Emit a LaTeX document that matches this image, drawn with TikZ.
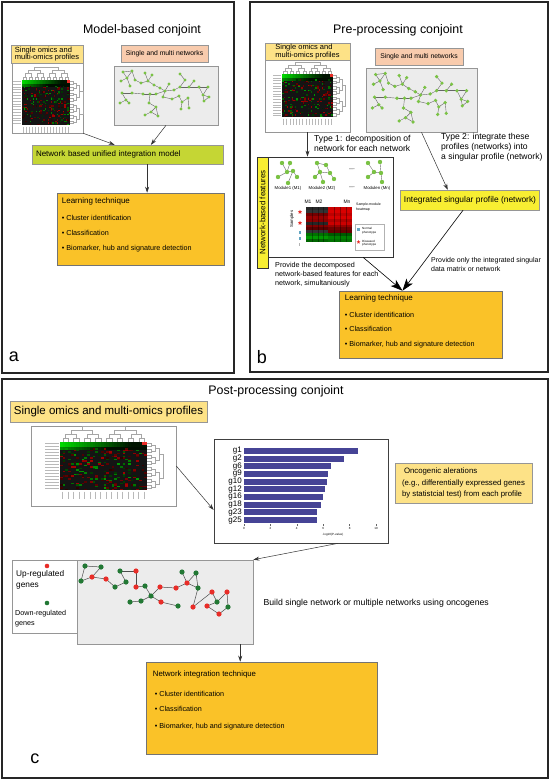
\documentclass[tikz,border=0pt]{standalone}
\usepackage{fontspec}
\setmainfont{Liberation Sans}
\usepackage{xcolor}
\usetikzlibrary{positioning,shapes,arrows.meta,calc}
\definecolor{omicsyellow}{RGB}{253,226,135}
\definecolor{netpeach}{RGB}{248,203,173}
\definecolor{modelgreen}{RGB}{197,214,52}
\definecolor{learnorange}{RGB}{250,194,40}
\definecolor{singleyellow}{RGB}{248,238,50}
\definecolor{netgray}{RGB}{236,236,236}
\definecolor{nodegreen}{RGB}{122,194,68}
\definecolor{upred}{RGB}{232,45,40}
\definecolor{downgreen}{RGB}{34,120,52}
\definecolor{barblue}{RGB}{70,68,150}
\definecolor{boxgray}{RGB}{150,150,150}

% heatmap with dendrograms: left, top, width, height, dendrogram step
\newcommand{\omicsmap}[5]{%
  \pgfmathsetmacro\cw{#3/32}%
  \pgfmathsetmacro\rh{#4/32}%
  \fill[black!92] (#1,#2) rectangle ++(#3,#4);
  \foreach \col in {0,...,31}{%
    \pgfmathtruncatemacro\pct{max(8,85-3*\col)}%
    \fill[green!\pct!black] (#1+\col*\cw,#2) rectangle ++(\cw,3*\rh);
    \pgfmathtruncatemacro\pct{max(5,55-3*\col)}%
    \fill[green!\pct!black] (#1+\col*\cw,#2+3*\rh) rectangle ++(\cw,2*\rh);
  }
  \fill[upred] (#1+30*\cw,#2) rectangle ++(2*\cw,2*\rh);
  \foreach \i in {1,...,150}{%
    \pgfmathtruncatemacro\rc{random(0,31)}%
    \pgfmathtruncatemacro\rr{random(4,31)}%
    \pgfmathtruncatemacro\pct{random(15,65)}%
    \fill[red!\pct!black] (#1+\rc*\cw,#2+\rr*\rh) rectangle ++(\cw,\rh);
  }
  \foreach \i in {1,...,100}{%
    \pgfmathtruncatemacro\rc{random(0,31)}%
    \pgfmathtruncatemacro\rr{random(4,31)}%
    \pgfmathtruncatemacro\pct{random(15,60)}%
    \fill[green!\pct!black] (#1+\rc*\cw,#2+\rr*\rh) rectangle ++(\cw,\rh);
  }
  \foreach \lev in {0,...,3}{%
    \pgfmathtruncatemacro\sz{2^(\lev+1)}%
    \pgfmathtruncatemacro\nb{16/\sz-1}%
    \foreach \kk in {0,...,\nb}{%
      \pgfmathsetmacro\pa{(\kk*\sz+\sz/4)*#3/16}%
      \pgfmathsetmacro\pb{(\kk*\sz+3*\sz/4)*#3/16}%
      \draw[dendro] (#1+\pa,#2-\lev*#5) |- (#1+\pb,#2-\lev*#5-#5) -- (#1+\pb,#2-\lev*#5);
      \pgfmathsetmacro\qa{(\kk*\sz+\sz/4)*#4/16}%
      \pgfmathsetmacro\qb{(\kk*\sz+3*\sz/4)*#4/16}%
      \draw[dendro] (#1+#3+\lev*#5,#2+\qa) -| (#1+#3+\lev*#5+#5,#2+\qb) -- (#1+#3+\lev*#5,#2+\qb);
    }
  }
  \foreach \rr in {0,...,15}
    \draw[maplabel] (#1-1.5,#2+\rr*#4/16+#4/32) -- ++(-0.15*#3,0);
  \foreach \rc in {0,...,15}
    \draw[maplabel] (#1+\rc*#3/16+#3/32,#2+#4+1.5) -- ++(0,0.15*#4);
}

% green network, drawn in a 104 x 59 frame
\newcommand{\greennet}{%
  \foreach \n/\x/\y in {1/9/6, 2/18/5, 3/13/12, 4/7/15, 5/21/14, 6/16/20,
    7/27/17, 8/31/7, 9/38/9, 10/34/15, 11/40/19, 12/46/22, 13/51/25, 14/55/18, 15/60/24,
    16/66/8, 17/71/14, 18/66/21, 19/75/21, 20/80/15, 21/85/21, 22/89/29, 23/94/21, 24/95/31, 25/90/35,
    26/8/27, 27/18/27, 28/12/34, 29/6/37, 30/15/37, 31/29/28, 32/36/28, 33/42/28, 34/35/37,
    35/42/41, 36/37/46, 37/31/49, 38/44/50, 39/49/31, 40/58/33, 41/65/30, 42/68/36, 43/74/32,
    44/75/42, 45/67/43}
    \coordinate (g\n) at (\x,\y);
  \foreach \a/\b in {1/2, 1/3, 2/3, 3/4, 3/6, 2/5, 5/7, 7/10, 8/10, 9/10, 10/11, 11/12, 12/13,
    13/14, 13/15, 15/18, 16/17, 17/18, 18/19, 19/20, 19/21, 21/23, 21/22, 22/23, 22/24, 24/25,
    22/25, 26/27, 26/28, 28/29, 28/30, 27/31, 31/32, 32/33, 33/13, 32/34, 34/35, 35/36, 36/37,
    35/38, 36/38, 13/39, 39/40, 40/41, 41/42, 42/43, 42/45, 43/44}
    \draw[netedge] (g\a) -- (g\b);
  \foreach \n in {1,...,45}
    \fill[nodegreen] (g\n) circle (1.7);
}

\begin{document}
\begin{tikzpicture}[x=1pt, y=-1pt]
    \tikzstyle{panel} = [draw=black!85, line width=1.8pt]
    \tikzstyle{title} = [font=\fontsize{12.4}{15}\selectfont]
    \tikzstyle{letter} = [font=\fontsize{18}{20}\selectfont]
    \tikzstyle{omics} = [rectangle, draw=boxgray, fill=omicsyellow, align=left, inner xsep=4pt, inner ysep=1pt]
    \tikzstyle{frame} = [rectangle, draw=boxgray, fill=white, line width=0.6pt]
    \tikzstyle{netlabel} = [rectangle, draw=boxgray, fill=netpeach, font=\fontsize{6.8}{8}\selectfont]
    \tikzstyle{netbox} = [rectangle, draw=boxgray, fill=netgray, line width=0.6pt]
    \tikzstyle{learnbox} = [rectangle, draw=black!55, fill=learnorange, line width=0.6pt]
    \tikzstyle{items} = [align=left, inner sep=0pt, anchor=north west, font=\fontsize{7.2}{9}\selectfont]
    \tikzstyle{remark} = [align=left, inner sep=0pt, anchor=north west]
    \tikzstyle{conn} = [-{Stealth[length=6pt,width=4pt]}, draw=black!80, line width=0.5pt]
    \tikzstyle{bigconn} = [-{Stealth[length=12pt,width=8pt,inset=3pt]}, line width=0.6pt]
    \tikzstyle{netedge} = [draw=black!60, line width=0.4pt]
    \tikzstyle{dendro} = [draw=gray!70, line width=0.3pt]
    \tikzstyle{maplabel} = [draw=gray!55, line width=0.7pt]
    \tikzstyle{tiny} = [inner sep=0pt, font=\fontsize{4.3}{5}\selectfont]
    \pgfmathsetseed{11}

    \fill[white] (0,0) rectangle (550,780);
    \useasboundingbox (0,0) rectangle (550,780);

    % Panels
    \draw[panel] (2,2) rectangle (234,373);
    \draw[panel] (250,2) rectangle (548,372);
    \draw[panel] (2,379) rectangle (548,778);

    % Panel a
    \node[title] (titleA) at (142,30) {Model-based conjoint};
    \node[frame, minimum width=71, minimum height=88] (mapA) at (47.5,89) {};
    \omicsmap{22}{80}{48}{45}{3.2}
    \node[omics, font=\fontsize{7.5}{7.5}\selectfont, minimum width=70, minimum height=18] (omicsA) at (47,54) {Single omics and\\multi-omics profiles};
    \node[netlabel, minimum width=87, minimum height=17] (netlblA) at (164.5,53.5) {Single and multi networks};
    \node[netbox, minimum width=104, minimum height=59] (netA) at (166,95.5) {};
    \begin{scope}[shift={(114,66)}]
        \greennet
    \end{scope}
    \node[rectangle, draw=boxgray, fill=modelgreen, minimum width=190, minimum height=19, text width=184, align=left, font=\fontsize{8}{9}\selectfont] (modelA) at (128,154.5) {Network based unified integration model};
    \node[learnbox, minimum width=167, minimum height=72] (learnA) at (140.5,229) {};
    \node[items] (itemsA) at ([shift={(5,5)}]learnA.north west) {{\fontsize{8}{9}\selectfont Learning technique}\\[7.5pt]\textbullet\ Cluster identification\\[6pt]\textbullet\ Classification\\[6pt]\textbullet\ Biomarker, hub and signature detection};
    \node[letter] (letterA) at (14,357) {a};

    \draw[conn] (mapA.south east) -- ($(modelA.north west)!0.43!(modelA.north east)$);
    \draw[conn] (netA.south) -- ($(modelA.north west)!0.62!(modelA.north east)$);
    \coordinate (downA) at ($(modelA.south west)!0.6!(modelA.south east)$);
    \draw[conn] (downA) -- (downA |- learnA.north);

    % Panel b
    \node[title] (titleB) at (398,30) {Pre-processing conjoint};
    \node[frame, minimum width=85, minimum height=72] (mapB) at (307.5,96) {};
    \omicsmap{282}{74}{51}{43}{3}
    \node[omics, font=\fontsize{7.5}{7.5}\selectfont, minimum width=85, minimum height=17] (omicsB) at (307.5,51.5) {Single omics and\\multi-omics profiles};
    \node[netlabel, minimum width=88, minimum height=17] (netlblB) at (419,56.5) {Single and multi networks};
    \node[netbox, minimum width=111, minimum height=64] (netB) at (421.5,100) {};
    \begin{scope}[shift={(366,68)}, xscale=1.07, yscale=1.08]
        \greennet
    \end{scope}
    \node[rectangle, draw=boxgray, fill=singleyellow, minimum width=134, minimum height=20, font=\fontsize{8.4}{10}\selectfont] (integB) at (470,200) {Integrated singular profile (network)};
    \node[rectangle, draw=black!80, fill=singleyellow, rotate=90, minimum width=111, minimum height=11, inner sep=0pt, font=\fontsize{7.9}{9}\selectfont] (stripB) at (262.5,212.5) {Network-based features};
    \node[frame, draw=black!80, line width=0.8pt, minimum width=125, minimum height=100] (featB) at (330.5,207) {};

    % modules
    \foreach \n/\x/\y in {a1/282/163, a2/290/163, a3/287/172, a4/293/171, a5/278/177, a6/297/177, a7/288/183,
        b1/317/163, b2/326/165, b3/320/172, b4/330/173, b5/315/177, b6/323/182, b7/334/179,
        c1/368/163, c2/380/162, c3/374/172, c4/381/173, c5/368/177, c6/382/182}
        \coordinate (\n) at (\x,\y);
    \foreach \a/\b in {a1/a3, a2/a3, a3/a4, a3/a5, a4/a6, a4/a7, b1/b2, b1/b3, b2/b4, b3/b4, b3/b5,
        b3/b6, b4/b7, c1/c3, c2/c4, c3/c4, c3/c5, c4/c6}
        \draw[netedge] (\a) -- (\b);
    \foreach \n in {a1,a2,a3,a4,a5,a6,a7,b1,b2,b3,b4,b5,b6,b7,c1,c2,c3,c4,c5,c6}
        \fill[nodegreen] (\n) circle (2.2);
    \node[tiny] (mod1) at (288,188) {Module1 (M1)};
    \node[tiny] (mod2) at (322,188) {Module2 (M2)};
    \node[tiny] (modn) at (377,188) {Modulen (Mn)};
    \node[tiny] (dotsB1) at (352,170) {----};
    \node[tiny] (dotsB2) at (352,188) {----};

    % sample-module heatmap
    \foreach \lcol/\rcol [count=\row from 0] in {black!85/red!80!black, black!80/red!85!black,
        red!45!black/red!75!black, red!60!black/red!85!black, red!55!black/red!70!black,
        black!85/red!80!black, red!50!black/red!60!black, red!35!black/red!45!black,
        black!80/red!40!black, green!45!black/green!35!black, green!60!black/green!50!black,
        green!40!black/green!45!black}
    {
        \fill[\lcol] (306,207+\row*2.92) rectangle (328,209.92+\row*2.92);
        \fill[\rcol] (328,207+\row*2.92) rectangle (352,209.92+\row*2.92);
    }
    \foreach \xx in {312,318,323,334,340,346}
        \draw[black, opacity=0.35, line width=0.3pt] (\xx,207) -- (\xx,242);
    \node[inner sep=0pt, font=\fontsize{5}{6}\selectfont] (m1lbl) at (308,202) {M1};
    \node[inner sep=0pt, font=\fontsize{5}{6}\selectfont] (m2lbl) at (319,202) {M2};
    \node[inner sep=0pt, font=\fontsize{5}{6}\selectfont] (mnlbl) at (347,202) {Mn};
    \node[tiny, rotate=90] (samplesB) at (292,219) {Samples};
    \node[star, star point ratio=2.2, fill=upred, inner sep=0pt, minimum size=4.5] (starB1) at (300,212) {};
    \node[star, star point ratio=2.2, fill=upred, inner sep=0pt, minimum size=4.5] (starB2) at (300,223) {};
    \fill[cyan!50!gray] (298.5,231) rectangle ++(2,2.5);
    \fill[cyan!50!gray] (298.5,237) rectangle ++(2,2.5);
    \fill[gray!60] (299,243) rectangle ++(1,2.5);
    \node[remark, font=\fontsize{3.5}{4.5}\selectfont] (heatB) at (356,203) {Sample-module\\heatmap};
    \node[rectangle, draw=gray!60, fill=white, minimum width=29, minimum height=26] (legB) at (369.5,237) {};
    \fill[cyan!50!gray] (357,228) rectangle ++(3,3);
    \node[remark, font=\fontsize{3}{3.5}\selectfont] (normalB) at (362,227.5) {Normal\\phenotype};
    \node[star, star point ratio=2.2, fill=upred, inner sep=0pt, minimum size=4] (starB3) at (358.5,242) {};
    \node[remark, font=\fontsize{3}{3.5}\selectfont] (diseasedB) at (362,240) {Diseased\\phenotype};

    \node[learnbox, minimum width=163, minimum height=67] (learnB) at (420.5,324.5) {};
    \node[items] (itemsB) at ([shift={(6,4)}]learnB.north west) {{\fontsize{8}{9}\selectfont Learning technique}\\[7.5pt]\textbullet\ Cluster identification\\[5pt]\textbullet\ Classification\\[6pt]\textbullet\ Biomarker, hub and signature detection};

    \node[remark, font=\fontsize{8.6}{10}\selectfont] (type1) at (314,135) {Type 1: decomposition of\\network for each network};
    \node[remark, font=\fontsize{8.6}{10}\selectfont] (type2) at (441,133) {Type 2: integrate these\\profiles (networks) into\\a singular profile (network)};
    \node[remark, font=\fontsize{7.2}{9}\selectfont] (provideB) at (275,262) {Provide the decomposed\\network-based features for each\\network, simultaniously};
    \node[remark, font=\fontsize{7}{9}\selectfont] (onlyB) at (431,257) {Provide only the integrated singular\\data matrix or network};
    \node[letter] (letterB) at (262,357) {b};

    \draw[conn] (mapB.south) -- (mapB.south |- featB.north);
    \draw[conn] (netB.south) -- ($(integB.north west)!0.34!(integB.north east)$);
    \coordinate (meetB) at ($(learnB.north west)!0.39!(learnB.north east)$);
    \draw[bigconn] ($(featB.south west)!0.76!(featB.south east)$) -- (meetB);
    \draw[bigconn] ($(integB.south west)!0.45!(integB.south east)$) -- (meetB);

    % Panel c
    \node[title] (titleC) at (276,391) {Post-processing conjoint};
    \node[frame, minimum width=145, minimum height=80] (mapC) at (103.5,466) {};
    \omicsmap{60}{442}{87}{48}{4}
    \node[omics, font=\fontsize{11.5}{13}\selectfont, minimum width=197, minimum height=21] (omicsC) at (108.5,411.5) {Single omics and multi-omics profiles};

    % bar chart
    \node[frame, draw=black!75, line width=0.8pt, minimum width=174, minimum height=104] (barC) at (301,491) {};
    \foreach \g/\v [count=\i from 0] in {g1/8.6, g2/7.6, g6/6.6, g9/6.4, g10/6.3, g12/6.15, g16/6.0, g18/5.85, g23/5.55, g25/5.5}
    {
        \fill[barblue] (244,448+\i*7.67) rectangle ++(\v*13.2,6);
        \node[anchor=east, inner sep=0pt, font=\fontsize{8}{8}\selectfont] (gl\i) at (242,451+\i*7.67) {\g};
    }
    \foreach \t in {0,2,...,10}
    {
        \draw[black!60, line width=0.3pt] (244+\t*13.2,524) -- ++(0,1.5);
        \node[inner sep=0pt, font=\fontsize{3}{3}\selectfont] (tick\t) at (244+\t*13.2,528.5) {\t};
    }
    \node[inner sep=0pt, font=\fontsize{3}{3}\selectfont] (axisC) at (333,535) {-log10(P-value)};

    \node[omics, font=\fontsize{7.8}{11.7}\selectfont, minimum width=137, minimum height=40] (noteC) at (463.5,483) {\hspace*{2pt}Oncogenic alerations\\(e.g., differentially expressed genes\\by statistcial test) from each profile};

    % gene network
    \node[rectangle, draw=boxgray, fill=white, minimum width=65, minimum height=73] (legC) at (44.5,596.5) {};
    \node[netbox, minimum width=176, minimum height=84] (netC) at (165,602) {};
    \fill[upred] (47,566) circle (2.3);
    \node[remark, font=\fontsize{8.3}{11}\selectfont] (upC) at (16,570.5) {Up-regulated\\genes};
    \fill[downgreen] (47,603) circle (2.3);
    \node[remark, font=\fontsize{7.2}{10}\selectfont] (downC) at (15,610.5) {Down-regulated\\genes};
    \foreach \n/\x/\y in {1/85/566, 2/101/567, 3/92/577, 4/81/581, 5/106/579, 6/115/587, 7/120/571,
        8/126/582, 9/136/571, 10/136/587, 11/145/586, 12/151/596, 13/160/587, 14/176/588, 15/187/583,
        16/182/572, 17/196/573, 18/198/588, 19/130/602, 20/141/601, 21/161/602, 22/178/606, 23/193/607,
        24/212/592, 25/227/592, 26/217/602, 27/207/606, 28/228/607, 29/219/614}
        \coordinate (h\n) at (\x,\y);
    \foreach \a/\b in {1/2, 2/3, 3/4, 1/4, 3/5, 5/6, 6/8, 8/7, 7/9, 9/10, 10/11, 11/12, 12/13, 13/14,
        14/15, 15/16, 15/17, 17/18, 15/18, 12/20, 20/19, 12/21, 21/22, 18/23, 23/24, 24/26, 26/25,
        25/28, 28/29, 29/27, 27/26}
        \draw[black!70, line width=0.5pt] (h\a) -- (h\b);
    \foreach \n/\c in {1/downgreen, 2/downgreen, 3/upred, 4/downgreen, 5/upred, 6/downgreen, 7/downgreen,
        8/downgreen, 9/upred, 10/upred, 11/downgreen, 12/downgreen, 13/upred, 14/upred, 15/upred,
        16/downgreen, 17/downgreen, 18/downgreen, 19/downgreen, 20/downgreen, 21/upred, 22/downgreen,
        23/upred, 24/upred, 25/upred, 26/downgreen, 27/upred, 28/downgreen, 29/upred}
        \fill[\c] (h\n) circle (2.6);
    \node[anchor=west, font=\fontsize{8.7}{10}\selectfont] (buildC) at (260,603) {Build single network or multiple networks using oncogenes};

    \node[learnbox, minimum width=231, minimum height=92] (learnC) at (261.5,708) {};
    \node[items] (itemsC) at ([shift={(7,9)}]learnC.north west) {{\fontsize{7.8}{9}\selectfont Network integration technique}\\[11pt]\hspace*{2pt}\textbullet\ Cluster identification\\[6pt]\hspace*{2pt}\textbullet\ Classification\\[7.5pt]\hspace*{2pt}\textbullet\ Biomarker, hub and signature detection};
    \node[letter] (letterC) at (35,759) {c};

    \draw[conn] (mapC.east) -- ($(barC.north west)!0.68!(barC.south west)$);
    \draw[conn] ($(barC.south west)!0.71!(barC.south east)$) -- (netC.north east);
    \coordinate (arrowC) at ($(netC.south west)!0.926!(netC.south east)$);
    \draw[conn] (arrowC) -- (arrowC |- learnC.north);
\end{tikzpicture}
\end{document}
